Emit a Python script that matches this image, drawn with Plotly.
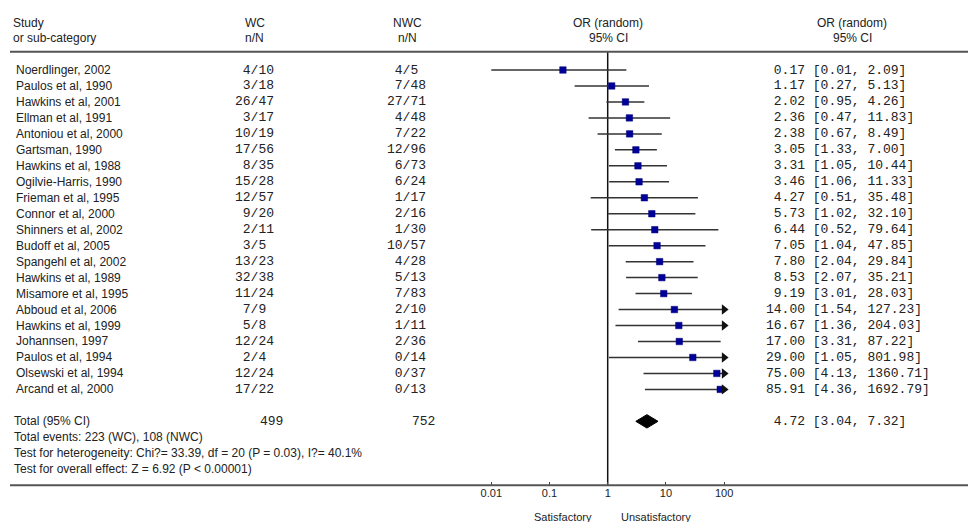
import plotly.graph_objects as go

studies = ["Noerdlinger, 2002", "Paulos et al, 1990", "Hawkins et al, 2001", "Ellman et al, 1991",
           "Antoniou et al, 2000", "Gartsman, 1990", "Hawkins et al, 1988", "Ogilvie-Harris, 1990",
           "Frieman et al, 1995", "Connor et al, 2000", "Shinners et al, 2002", "Budoff et al, 2005",
           "Spangehl et al, 2002", "Hawkins et al, 1989", "Misamore et al, 1995", "Abboud et al, 2006",
           "Hawkins et al, 1999", "Johannsen, 1997", "Paulos et al, 1994", "Olsewski et al, 1994",
           "Arcand et al, 2000"]
wc_n = [4, 3, 26, 3, 10, 17, 8, 15, 12, 9, 2, 3, 13, 32, 11, 7, 5, 12, 2, 12, 17]
wc_N = [10, 18, 47, 17, 19, 56, 35, 28, 57, 20, 11, 5, 23, 38, 24, 9, 8, 24, 4, 24, 22]
nwc_n = [4, 7, 27, 4, 7, 12, 6, 6, 1, 2, 1, 10, 4, 5, 7, 2, 1, 2, 0, 0, 0]
nwc_N = [5, 48, 71, 48, 22, 96, 73, 24, 17, 16, 30, 57, 28, 13, 83, 10, 11, 36, 14, 37, 13]
or_val = [0.17, 1.17, 2.02, 2.36, 2.38, 3.05, 3.31, 3.46, 4.27, 5.73, 6.44, 7.05, 7.80, 8.53,
          9.19, 14.00, 16.67, 17.00, 29.00, 75.00, 85.91]
ci_lo = [0.01, 0.27, 0.95, 0.47, 0.67, 1.33, 1.05, 1.06, 0.51, 1.02, 0.52, 1.04, 2.04, 2.07,
         3.01, 1.54, 1.36, 3.31, 1.05, 4.13, 4.36]
ci_hi = [2.09, 5.13, 4.26, 11.83, 8.49, 7.00, 10.44, 11.33, 35.48, 32.10, 79.64, 47.85, 29.84,
         35.21, 28.03, 127.23, 204.03, 87.22, 801.98, 1360.71, 1692.79]
total_wc = 499
total_nwc = 752
total_or = 4.72
total_lo = 3.04
total_hi = 7.32
summary_lines = ["Total events: 223 (WC), 108 (NWC)",
                 "Test for heterogeneity: Chi?= 33.39, df = 20 (P = 0.03), I?= 40.1%",
                 "Test for overall effect: Z = 6.92 (P < 0.00001)"]
tick_vals = [0.01, 0.1, 1, 10, 100]
tick_text = ["0.01", "0.1", "1", "10", "100"]
axis_max = 100

W, H = 968, 522
ROW0, PITCH = 70.0, 15.97
DEC, X1 = 58.2, 607.7
xlo = -X1 / DEC
xhi = xlo + W / DEC
ylo = -ROW0 / PITCH
yhi = (H - ROW0) / PITCH

TXT = "#222222"
SANS = "Liberation Sans, Arial, sans-serif"
MONO = "Liberation Mono, Courier New, monospace"
NB = "\u00a0"

fig = go.Figure()

n = len(studies)
rows = list(range(n))
total_row = n + 1

# reference line at OR = 1
fig.add_trace(go.Scatter(x=[1, 1], y=[-1.15, 26.0], mode="lines",
                         line=dict(color="#111111", width=1.5), hoverinfo="skip", showlegend=False))

# CI lines
for i in rows:
    hi = min(ci_hi[i], axis_max)
    fig.add_trace(go.Scatter(x=[ci_lo[i], hi], y=[i, i], mode="lines",
                             line=dict(color="#333333", width=1.5), hoverinfo="skip", showlegend=False))

# point estimates
fig.add_trace(go.Scatter(x=or_val, y=rows, mode="markers",
                         marker=dict(symbol="square", size=6.5, color="#000099",
                                     line=dict(color="#000077", width=0.5)),
                         hoverinfo="skip", showlegend=False))

# arrows for truncated CIs
arr_y = [i for i in rows if ci_hi[i] > axis_max]
fig.add_trace(go.Scatter(x=[axis_max] * len(arr_y), y=arr_y, mode="markers",
                         marker=dict(symbol="triangle-right", size=9, color="#111111"),
                         hoverinfo="skip", showlegend=False))

# diamond
dh = 0.42
fig.add_trace(go.Scatter(x=[total_lo, total_or, total_hi, total_or, total_lo],
                         y=[total_row, total_row - dh, total_row, total_row + dh, total_row],
                         mode="lines", fill="toself", fillcolor="#000000",
                         line=dict(color="#000000", width=1), hoverinfo="skip", showlegend=False))

ann = []


def px(x):
    return x / W


def py(y):
    return 1 - y / H


def add(text, x, y, anchor="left", font=SANS, size=12, yref="y"):
    ann.append(dict(text=text, x=px(x), y=y, xref="paper", yref=yref, xanchor=anchor,
                    yanchor="middle", showarrow=False,
                    font=dict(family=font, size=size, color=TXT)))


# headers
add("Study", 11, py(23.3), yref="paper")
add("or sub-category", 11, py(38.3), yref="paper")
add("WC", 255, py(23.3), "center", yref="paper")
add("n/N", 255, py(38.3), "center", yref="paper")
add("NWC", 407, py(23.3), "center", yref="paper")
add("n/N", 407, py(38.3), "center", yref="paper")
add("OR (random)", 608, py(23.3), "center", yref="paper")
add("95% CI", 608, py(38.3), "center", yref="paper")
add("OR (random)", 852, py(23.3), "center", yref="paper")
add("95% CI", 852, py(38.3), "center", yref="paper")


def frac(a, b):
    return (str(a).rjust(2) + "/" + str(b).ljust(2)).replace(" ", NB)


for i in rows:
    add(studies[i], 14, i)
    add(frac(wc_n[i], wc_N[i]), 254.6, i, "center", MONO, 13)
    add(frac(nwc_n[i], nwc_N[i]), 406.9, i, "center", MONO, 13)
    s = ("%.2f" % or_val[i]).rjust(5).replace(" ", NB) + NB + "[%.2f, %.2f]" % (ci_lo[i], ci_hi[i])
    add(s.replace(" ", NB), 764, i, "left", MONO, 13)

add("Total (95% CI)", 11.5, total_row)
add(str(total_wc), 271, total_row, "center", MONO, 13)
add(str(total_nwc), 423, total_row, "center", MONO, 13)
s = ("%.2f" % total_or).rjust(5).replace(" ", NB) + NB + "[%.2f, %.2f]" % (total_lo, total_hi)
add(s.replace(" ", NB), 764, total_row, "left", MONO, 13)
for k, line in enumerate(summary_lines):
    add(line, 11.5, total_row + 1 + k)

add("Satisfactory", 563, py(516.5), "center", SANS, 11, yref="paper")
add("Unsatisfactory", 656, py(516.5), "center", SANS, 11, yref="paper")

shapes = [
    dict(type="line", xref="paper", yref="paper", x0=px(10), x1=1, y0=py(51.7), y1=py(51.7),
         line=dict(color="#555555", width=2)),
    dict(type="line", xref="paper", yref="paper", x0=px(10), x1=1, y0=py(485.3), y1=py(485.3),
         line=dict(color="#555555", width=2)),
]

fig.update_layout(
    width=W, height=H, margin=dict(l=0, r=0, t=0, b=0),
    paper_bgcolor="white", plot_bgcolor="white",
    annotations=ann, shapes=shapes, showlegend=False,
    xaxis=dict(type="log", range=[xlo, xhi], domain=[0, 1], anchor="free", position=py(485.3),
               tickvals=tick_vals, ticktext=tick_text, ticks="inside", ticklen=3, tickwidth=1,
               tickcolor="#444444", showgrid=False, zeroline=False, showline=False,
               tickfont=dict(family=SANS, size=11, color=TXT), fixedrange=True),
    yaxis=dict(range=[yhi, ylo], visible=False, showgrid=False, zeroline=False, fixedrange=True),
)

fig.write_html("out.html", config={"displayModeBar": False},
               post_script="document.body.style.margin='0';document.body.style.overflow='hidden';")
